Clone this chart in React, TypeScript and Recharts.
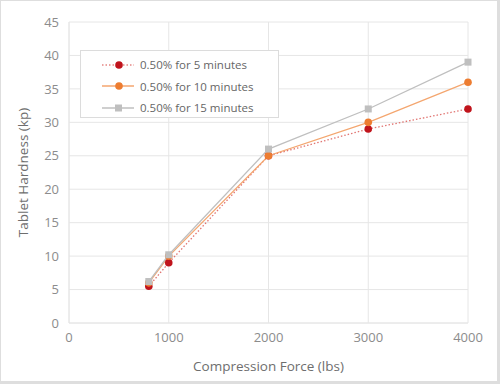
import { LineChart, Line, XAxis, YAxis, CartesianGrid, Legend } from 'recharts';

const forces = [800, 1000, 2000, 3000, 4000];
const fiveMin = [5.5, 9, 25, 29, 32];
const tenMin = [6, 10, 25, 30, 36];
const fifteenMin = [6.2, 10.2, 26, 32, 39];
const xTicks = [0, 1000, 2000, 3000, 4000];
const yTicks = [0, 5, 10, 15, 20, 25, 30, 35, 40, 45];

const data = forces.map((f, i) => ({
  force: f,
  five: fiveMin[i],
  ten: tenMin[i],
  fifteen: fifteenMin[i],
}));

const FONT = '"Open Sans", sans-serif';
const GRID = '#e6e6e6';
const TICK = '#8c8c8c';

const SquareDot = (props: any) => {
  const { cx, cy, key } = props;
  if (cx == null || cy == null) return null;
  return <rect key={key} x={cx - 3.5} y={cy - 3.5} width={7} height={7} fill="#bfbfbf" />;
};

const series = [
  { key: 'five', name: '0.50% for 5 minutes', line: '#d9534f', dash: '1.5 2', marker: '#c0141c', square: false },
  { key: 'ten', name: '0.50% for 10 minutes', line: '#f4a66f', dash: undefined, marker: '#ed7d31', square: false },
  { key: 'fifteen', name: '0.50% for 15 minutes', line: '#bfbfbf', dash: undefined, marker: '#bfbfbf', square: true },
];

function LegendBox() {
  return (
    <div style={{ background: '#fff', border: '1px solid #dcdcdc', padding: '3px 0', boxSizing: 'border-box', height: 68, width: 199 }}>
      {series.map(s => (
        <div key={s.key} style={{ display: 'flex', alignItems: 'center', height: 21.5 }}>
          <svg width={56} height={12} style={{ display: 'block' }}>
            <line x1={21} x2={53} y1={6} y2={6} stroke={s.line} strokeWidth={1.5} strokeDasharray={s.dash} strokeOpacity={s.key === 'five' ? 0.7 : 1} />
            {s.square
              ? <rect x={34} y={2.5} width={7} height={7} fill={s.marker} />
              : <circle cx={38} cy={6} r={3.8} fill={s.marker} />}
          </svg>
          <span style={{ fontFamily: FONT, fontSize: 11.5, color: '#666', marginLeft: 3 }}>{s.name}</span>
        </div>
      ))}
    </div>
  );
}

export default function App() {
  return (
    <div style={{ position: 'fixed', left: 0, top: 0, width: 500, height: 384, background: '#fff' }}>
      <LineChart width={500} height={384} data={data} margin={{ top: 22, right: 32, left: 9, bottom: 0 }}>
        <CartesianGrid stroke={GRID} />
        <XAxis
          dataKey="force"
          type="number"
          domain={[0, 4000]}
          ticks={xTicks}
          height={61}
          stroke={GRID}
          tickLine={false}
          tickSize={0}
          tickMargin={10}
          tick={{ fill: TICK, fontSize: 13, fontFamily: FONT }}
          label={{ value: 'Compression Force (lbs)', position: 'insideBottom', offset: 13, fill: '#6e6e6e', fontSize: 13.5, fontFamily: FONT }}
        />
        <YAxis
          type="number"
          domain={[0, 45]}
          ticks={yTicks}
          width={60}
          stroke={GRID}
          tickLine={false}
          tickSize={0}
          tickMargin={10}
          tick={{ fill: TICK, fontSize: 13, fontFamily: FONT }}
          label={{ value: 'Tablet Hardness (kp)', angle: -90, position: 'insideLeft', offset: 14, dx: 0, fill: '#6e6e6e', fontSize: 13.5, fontFamily: FONT, style: { textAnchor: 'middle' } }}
        />
        <Legend
          content={() => <LegendBox />}
          layout="vertical"
          align="center"
          verticalAlign="middle"
          wrapperStyle={{ left: 80, top: 50, width: 199, height: 68 }}
        />
        {series.map(s => (
          <Line
            key={s.key}
            dataKey={s.key}
            name={s.name}
            type="linear"
            stroke={s.line}
            strokeWidth={s.key === 'five' ? 1.3 : 1.25}
            strokeOpacity={s.key === 'five' ? 0.8 : 1}
            strokeDasharray={s.dash}
            dot={s.square ? SquareDot : { r: 3.8, fill: s.marker, stroke: s.marker, strokeWidth: 0 }}
            activeDot={false}
            isAnimationActive={false}
          />
        ))}
      </LineChart>
      <div style={{ position: 'absolute', left: 0, top: 0, width: 500, height: 384, border: '1px solid #dedede', borderRightWidth: 3, borderBottomWidth: 3, boxSizing: 'border-box', pointerEvents: 'none' }} />
    </div>
  );
}
